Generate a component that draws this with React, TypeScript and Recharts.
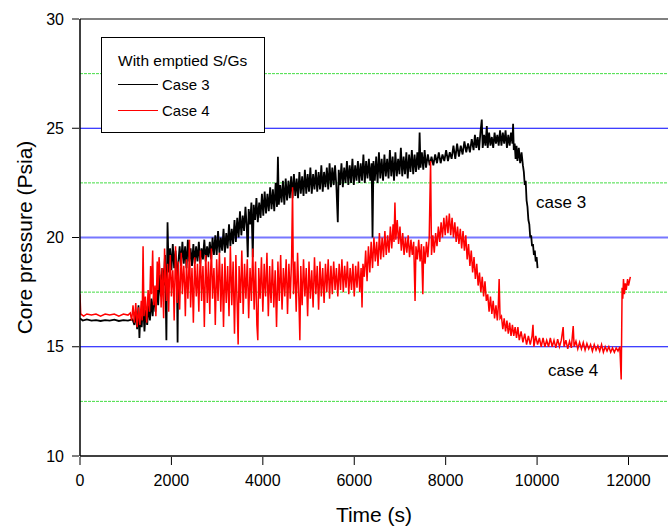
import { LineChart, Line, XAxis, YAxis, ReferenceLine, CartesianGrid } from "recharts"

// Core pressure (Psia) vs time (s) — [time, pressure]
const case3: [number, number][] = [
  [0, 16.3], [60, 16.2], [150, 16.25], [250, 16.2], [350, 16.22], [450, 16.18], [550, 16.22], [650, 16.2], [750, 16.24], [850, 16.18], [950, 16.22], [1050, 16.2], [1150, 16.25],
  [1190, 16.0], [1220, 16.6], [1250, 15.8], [1280, 16.9], [1300, 15.4], [1320, 16.5], [1350, 15.9], [1380, 17.0], [1410, 15.7], [1440, 16.7], [1470, 16.0], [1500, 16.9],
  [1530, 16.2], [1560, 17.2], [1590, 16.4], [1620, 17.5], [1650, 16.6], [1680, 17.8], [1710, 16.9], [1740, 18.3], [1770, 17.3], [1800, 18.6], [1830, 17.8], [1860, 19.2],
  [1890, 15.3], [1905, 18.6], [1915, 20.7], [1940, 18.4], [1970, 19.5], [2000, 18.5], [2030, 19.7], [2060, 18.6], [2090, 19.4], [2120, 18.4], [2135, 15.2], [2150, 18.8], [2180, 19.6],
  [2210, 18.7], [2240, 19.8], [2270, 18.8], [2300, 19.6], [2330, 18.6], [2360, 19.9], [2390, 18.9], [2420, 19.5], [2450, 18.7], [2480, 19.7], [2510, 18.8], [2540, 19.6], [2570, 18.9], [2600, 19.8], [2630, 18.8], [2660, 19.5], [2690, 19.0], [2720, 19.9], [2750, 18.9], [2780, 19.6], [2810, 19.1], [2840, 19.8], [2870, 19.0], [2900, 20.0], [2930, 19.2],
  [2960, 20.1], [2990, 19.2], [3020, 20.3], [3050, 19.3], [3080, 20.0], [3110, 19.4], [3140, 20.4], [3170, 19.3], [3200, 20.2], [3230, 19.5], [3260, 20.6], [3290, 19.6], [3320, 20.4], [3350, 19.7], [3380, 20.8],
  [3410, 19.8], [3440, 20.9], [3470, 20.0], [3500, 21.2], [3530, 20.1], [3560, 21.0], [3590, 20.3], [3620, 21.4], [3650, 20.4], [3670, 19.1], [3690, 21.3], [3720, 20.6], [3750, 21.6], [3780, 19.1], [3800, 21.5], [3830, 20.8], [3860, 21.8], [3890, 20.7], [3920, 21.6], [3950, 20.9], [3980, 22.0],
  [4010, 21.0], [4040, 22.1], [4070, 21.1], [4100, 22.0], [4130, 21.2], [4160, 22.3], [4190, 21.3], [4220, 22.2], [4250, 21.2], [4280, 22.5], [4310, 21.4], [4330, 23.7], [4350, 21.5], [4380, 22.4], [4410, 21.6], [4440, 22.6], [4470, 21.5], [4500, 22.7], [4530, 21.7], [4560, 22.6], [4590, 21.8],
  [4620, 22.8], [4650, 21.8], [4680, 22.9], [4710, 21.9], [4740, 22.7], [4770, 21.8], [4800, 23.0], [4830, 22.0], [4860, 22.8], [4890, 21.9], [4920, 23.1], [4950, 22.0], [4980, 22.9], [5010, 22.1], [5040, 23.2], [5070, 22.0], [5100, 22.9], [5130, 22.2], [5160, 23.1], [5190, 22.1], [5220, 23.0], [5250, 22.2], [5280, 23.3], [5310, 22.1], [5340, 23.0], [5370, 22.3], [5400, 23.2], [5430, 22.2], [5460, 23.4], [5490, 22.3],
  [5520, 23.2], [5550, 22.4], [5580, 23.3], [5610, 22.3], [5640, 20.7], [5660, 23.1], [5690, 22.4], [5720, 23.4], [5750, 22.3], [5780, 23.2], [5810, 22.5], [5840, 23.5], [5870, 22.4], [5900, 23.3], [5930, 22.5], [5960, 23.6], [5990, 22.4], [6020, 23.3], [6050, 22.6], [6080, 23.5], [6110, 22.5], [6140, 23.4], [6170, 22.6], [6200, 23.8], [6230, 22.5], [6260, 23.5], [6290, 22.7], [6320, 23.6], [6350, 22.6], [6380, 23.4], [6400, 20.0], [6420, 23.5],
  [6450, 22.6], [6480, 23.7], [6510, 22.5], [6540, 23.9], [6570, 22.7], [6600, 23.6], [6630, 22.6], [6660, 23.8], [6690, 22.8], [6720, 23.6], [6750, 22.7], [6780, 24.0], [6810, 22.8], [6840, 23.7], [6870, 22.6], [6900, 23.9], [6930, 22.8], [6960, 23.6], [6990, 22.9], [7020, 24.1], [7050, 22.8], [7080, 23.7], [7110, 22.9], [7140, 23.9], [7170, 22.7], [7200, 23.8], [7230, 23.0], [7260, 24.0], [7290, 22.9], [7320, 23.8], [7350, 23.0], [7380, 23.9], [7410, 23.1], [7430, 24.8], [7450, 23.2], [7480, 23.9], [7510, 23.1], [7540, 24.0], [7570, 23.2],
  [7610, 23.8], [7650, 23.3], [7690, 23.7], [7730, 23.3], [7770, 23.8], [7810, 23.4], [7850, 23.9], [7890, 23.4], [7930, 23.8], [7970, 23.5], [8010, 24.0], [8050, 23.5], [8090, 23.9], [8130, 23.6],
  [8170, 24.2], [8210, 23.6], [8250, 24.3], [8290, 23.7], [8330, 24.2], [8370, 23.8], [8410, 24.4], [8450, 23.9], [8490, 24.3], [8530, 23.9], [8570, 24.5],
  [8610, 24.0], [8640, 24.7], [8670, 24.1], [8700, 24.6], [8730, 24.0], [8760, 24.8], [8790, 25.4], [8810, 24.1], [8840, 24.7], [8870, 24.2], [8900, 25.1], [8920, 24.1], [8950, 24.8], [8980, 24.2], [9010, 24.6], [9040, 24.1], [9070, 24.8], [9100, 24.3], [9130, 24.7], [9160, 24.2], [9190, 24.9],
  [9220, 24.2], [9250, 24.8], [9280, 24.3], [9310, 24.9], [9340, 24.1], [9370, 24.7], [9400, 24.2], [9430, 24.8], [9460, 24.3], [9475, 25.2],
  [9490, 24.0], [9510, 24.3], [9530, 23.6], [9550, 24.2], [9570, 23.5], [9600, 24.1], [9630, 23.4], [9660, 23.9], [9690, 23.3],
  [9710, 23.0], [9730, 22.4], [9750, 22.6], [9770, 21.7], [9790, 21.4], [9810, 20.8], [9830, 20.6], [9850, 20.0], [9870, 20.1], [9890, 19.6], [9910, 19.7], [9930, 19.2], [9950, 19.4], [9970, 18.9], [9990, 19.1], [10010, 18.6],
]

const case4: [number, number][] = [
  [0, 17.4], [15, 16.5], [80, 16.4], [150, 16.5], [250, 16.45], [350, 16.5], [450, 16.4], [550, 16.5], [650, 16.45], [750, 16.5], [850, 16.4], [950, 16.5], [1050, 16.45], [1100, 16.55],
  [1130, 16.2], [1160, 16.9], [1190, 16.1], [1220, 17.0], [1250, 15.9], [1280, 16.8], [1310, 16.0], [1340, 17.1], [1360, 16.2], [1380, 19.6], [1400, 16.4], [1430, 17.3], [1460, 16.1], [1490, 17.6],
  [1520, 16.6], [1545, 18.7], [1565, 17.4], [1590, 19.4], [1610, 16.9], [1640, 17.8], [1660, 16.4], [1690, 18.9], [1705, 17.6], [1730, 19.1], [1760, 18.0], [1775, 16.8], [1800, 18.6], [1830, 16.3], [1850, 19.5], [1870, 18.2], [1890, 17.1], [1915, 18.8], [1940, 16.6], [1955, 18.0], [1975, 19.2], [2000, 17.3], [2030, 18.5], [2045, 17.7], [2060, 16.2], [2090, 19.6], [2110, 18.1], [2125, 17.0], [2150, 18.9], [2180, 16.7], [2195, 17.9], [2215, 19.3], [2240, 17.4], [2270, 18.7], [2290, 17.8], [2305, 16.4], [2330, 19.0], [2360, 17.2], [2380, 18.4], [2395, 19.9], [2420, 16.8], [2450, 18.6], [2465, 17.5], [2480, 16.1], [2510, 19.1], [2530, 17.9], [2545, 17.3], [2570, 18.8], [2600, 16.6], [2615, 18.1], [2635, 19.4], [2660, 17.1], [2690, 18.7], [2705, 17.6], [2720, 15.9], [2750, 19.2], [2770, 18.0], [2785, 17.0], [2810, 18.9], [2840, 16.5], [2855, 18.3], [2875, 19.5], [2900, 17.2], [2930, 18.6], [2945, 17.6], [2960, 16.0], [2990, 19.0],
  [3020, 17.1], [3050, 19.3], [3065, 18.2], [3080, 16.6], [3110, 18.8], [3140, 15.9], [3170, 19.1], [3185, 17.8], [3200, 17.0], [3230, 18.7], [3260, 16.4], [3290, 19.6], [3305, 18.3], [3320, 16.9], [3350, 18.9], [3380, 15.6], [3410, 19.2], [3425, 17.9], [3440, 16.8], [3460, 15.1], [3480, 18.7], [3510, 17.0], [3540, 19.4], [3555, 18.1], [3570, 16.5], [3600, 18.8], [3630, 17.2], [3660, 19.0], [3675, 17.7], [3690, 16.3], [3720, 18.6], [3750, 17.1], [3780, 19.5], [3795, 18.0], [3810, 16.7], [3840, 18.9], [3870, 16.0], [3890, 15.3], [3910, 18.6], [3940, 17.2], [3970, 19.1],
  [4000, 16.6], [4030, 18.8], [4045, 17.8], [4060, 17.3], [4090, 19.3], [4120, 16.4], [4150, 18.7], [4165, 17.6], [4180, 17.0], [4210, 19.0], [4240, 16.8], [4270, 18.5], [4300, 15.9], [4330, 18.9], [4345, 17.9], [4360, 17.1], [4390, 19.2], [4420, 16.7], [4450, 18.6], [4480, 17.3], [4510, 19.0], [4525, 17.9], [4540, 16.5], [4570, 18.8], [4600, 17.2], [4630, 19.1], [4650, 22.3], [4670, 17.4], [4700, 18.9], [4730, 16.6], [4760, 19.3], [4790, 17.1], [4810, 15.3], [4830, 18.7], [4860, 16.9], [4890, 19.0], [4920, 17.3], [4950, 18.6], [4980, 16.4],
  [5010, 18.9], [5040, 17.2], [5070, 18.5], [5100, 16.8], [5130, 19.1], [5160, 17.4], [5190, 18.7], [5220, 16.7], [5250, 18.9], [5280, 17.3], [5310, 18.6], [5340, 17.0], [5370, 18.8], [5400, 17.5], [5430, 19.0], [5460, 17.2], [5490, 18.7], [5520, 17.4], [5550, 18.9], [5580, 17.6], [5610, 18.6], [5640, 17.3], [5670, 18.8], [5700, 17.6], [5730, 19.0], [5760, 17.5], [5790, 18.7], [5820, 17.7], [5850, 18.9], [5880, 17.4], [5910, 18.6], [5940, 17.6], [5970, 18.8], [6000, 17.3], [6030, 18.7], [6060, 17.7], [6090, 18.9], [6120, 17.5], [6150, 18.6], [6170, 16.8], [6190, 18.8],
  [6220, 18.2], [6250, 19.4], [6280, 18.0], [6310, 19.6], [6340, 18.4], [6370, 19.8], [6400, 18.6], [6430, 20.0], [6460, 18.9], [6490, 19.8], [6520, 18.7], [6550, 20.2], [6580, 19.0], [6610, 20.0], [6640, 19.1], [6670, 20.3], [6700, 19.2], [6730, 20.1], [6760, 19.3], [6790, 20.5],
  [6820, 19.5], [6850, 20.6], [6870, 19.8], [6890, 21.6], [6910, 19.9], [6940, 20.8], [6970, 19.7], [7000, 20.5],
  [7030, 19.4], [7060, 20.2], [7090, 19.2], [7120, 20.0], [7150, 19.3], [7180, 20.1], [7210, 19.1], [7240, 19.9], [7270, 19.2], [7300, 19.8], [7330, 17.1], [7350, 19.6],
  [7380, 19.0], [7410, 19.9], [7440, 18.9], [7470, 19.7], [7500, 17.4], [7520, 19.6], [7550, 18.8], [7580, 19.8], [7610, 19.1], [7640, 20.0], [7670, 23.5], [7690, 19.2], [7720, 20.1], [7750, 19.3], [7780, 20.2],
  [7810, 19.6], [7840, 20.5], [7870, 19.8], [7900, 20.7], [7930, 20.0], [7960, 20.9], [7990, 20.1], [8020, 21.0], [8050, 20.2], [8080, 21.1], [8110, 20.1], [8140, 20.9],
  [8170, 20.0], [8200, 20.7], [8230, 19.8], [8260, 20.5], [8290, 19.7], [8320, 20.4], [8350, 19.5], [8380, 20.3], [8410, 19.4], [8440, 20.1],
  [8470, 19.0], [8500, 19.7], [8530, 18.7], [8560, 19.4], [8590, 18.4], [8620, 19.1], [8650, 18.1], [8680, 18.8],
  [8710, 17.8], [8740, 18.4], [8770, 17.5], [8800, 18.2], [8830, 17.3], [8860, 18.0], [8890, 17.1],
  [8920, 17.4], [8950, 16.6], [8980, 17.3], [9010, 16.5], [9040, 17.1], [9070, 16.3], [9100, 16.9], [9130, 16.2], [9150, 16.8], [9170, 18.1], [9190, 16.3],
  [9220, 16.4], [9250, 15.8], [9280, 16.3], [9310, 15.7], [9340, 16.2], [9370, 15.6], [9400, 16.1], [9430, 15.5], [9460, 16.0], [9490, 15.5], [9520, 15.9], [9550, 15.4], [9580, 15.9], [9610, 15.3],
  [9650, 15.7], [9690, 15.2], [9730, 15.6], [9770, 15.1], [9810, 15.5], [9850, 15.1], [9890, 15.5], [9910, 16.0], [9930, 15.0], [9970, 15.5], [10010, 15.1], [10050, 15.4], [10090, 15.0], [10130, 15.4], [10170, 15.0], [10210, 15.3],
  [10250, 15.0], [10290, 15.4], [10330, 15.0], [10370, 15.3], [10410, 14.95], [10450, 15.35], [10490, 15.0], [10530, 15.3], [10570, 15.9], [10590, 15.0], [10630, 15.3], [10670, 14.9], [10710, 15.25], [10750, 14.95], [10790, 15.95], [10810, 15.0], [10850, 15.25], [10890, 14.9], [10930, 15.2], [10970, 14.9],
  [11010, 15.2], [11050, 14.85], [11090, 15.15], [11130, 14.9], [11170, 15.1], [11210, 14.8], [11250, 15.1], [11290, 14.85], [11330, 15.05], [11370, 14.8], [11410, 15.1], [11450, 14.75], [11490, 15.0], [11530, 14.8], [11570, 15.0], [11610, 14.75], [11650, 14.95], [11690, 14.75], [11730, 14.95], [11770, 14.8], [11810, 15.0],
  [11840, 13.5], [11850, 15.5], [11860, 17.7], [11875, 17.2], [11890, 18.1], [11910, 17.4], [11930, 17.9], [11950, 17.6], [11980, 18.1], [12000, 17.8], [12040, 18.2],
]

const timeTicks = [0, 2000, 4000, 6000, 8000, 10000, 12000]
const timeMinorTicks = [1000, 3000, 5000, 7000, 9000, 11000]
const pressureTicks = [10, 15, 20, 25, 30]
const pressureMinorTicks = [12.5, 17.5, 22.5, 27.5]
const majorGrid = [15, 25]
const centreGrid = [20]
const minorGrid = [12.5, 17.5, 22.5, 27.5]

const case3Data = case3.map(([t, p]) => ({ t, p }))
const case4Data = case4.map(([t, p]) => ({ t, p }))

const FONT = '"Liberation Sans", Arial, sans-serif'
const X_DOMAIN: [number, number] = [0, 12864]
const Y_DOMAIN: [number, number] = [10, 30]

export default function App() {
  return (
    <div style={{ position: "absolute", left: 0, top: 0, width: 668, height: 531, background: "#fff", fontFamily: FONT }}>
      <LineChart width={668} height={531} margin={{ top: 19, right: 0, left: 0, bottom: 0 }}>
        <CartesianGrid
          xAxisId="xt"
          yAxisId="yp"
          vertical={false}
          horizontalValues={minorGrid}
          stroke="#44dd44"
          strokeDasharray="3 1"
        />
        <CartesianGrid
          xAxisId="xt"
          yAxisId="yp"
          vertical={false}
          horizontalValues={majorGrid}
          stroke="#0000ff"
        />
        <CartesianGrid
          xAxisId="xt"
          yAxisId="yp"
          vertical={false}
          horizontalValues={centreGrid}
          stroke="#7777ff"
          strokeWidth={2}
        />
        <XAxis
          xAxisId="xt"
          type="number"
          dataKey="t"
          domain={X_DOMAIN}
          ticks={timeTicks}
          allowDataOverflow
          height={74}
          tickSize={8}
          tickMargin={10}
          axisLine={false}
          stroke="#000"
          tick={{ fill: "#000", fontSize: 16, fontFamily: FONT }}
          label={{ value: "Time (s)", position: "insideBottom", offset: 9, fill: "#000", fontSize: 21, fontFamily: FONT }}
        />
        {/* minor-tick axis sits on the plot edge and carries the axis line */}
        <XAxis
          xAxisId="xa"
          type="number"
          dataKey="t"
          domain={X_DOMAIN}
          ticks={timeMinorTicks}
          height={1}
          tick={false}
          tickSize={4}
          stroke="#000"
          strokeWidth={1.5}
        />
        <YAxis
          yAxisId="yp"
          type="number"
          domain={Y_DOMAIN}
          ticks={pressureTicks}
          width={79}
          tickSize={7}
          tickMargin={8}
          axisLine={false}
          stroke="#000"
          tick={{ fill: "#000", fontSize: 16, fontFamily: FONT }}
          label={{
            value: "Core pressure (Psia)",
            angle: -90,
            position: "insideLeft",
            offset: 25,
            fill: "#000",
            fontSize: 21,
            fontFamily: FONT,
            style: { textAnchor: "middle" },
          }}
        />
        <YAxis
          yAxisId="ya"
          type="number"
          domain={Y_DOMAIN}
          ticks={pressureMinorTicks}
          width={1}
          tick={false}
          tickSize={4}
          stroke="#000"
          strokeWidth={1.5}
        />
        <ReferenceLine xAxisId="xt" yAxisId="yp" y={30} stroke="#808080" strokeWidth={2} />
        <Line
          xAxisId="xt"
          yAxisId="yp"
          data={case3Data}
          dataKey="p"
          name="Case 3"
          type="linear"
          stroke="#000"
          strokeWidth={1.8}
          dot={false}
          isAnimationActive={false}
        />
        <Line
          xAxisId="xt"
          yAxisId="yp"
          data={case4Data}
          dataKey="p"
          name="Case 4"
          type="linear"
          stroke="#ff0000"
          strokeWidth={1.5}
          dot={false}
          isAnimationActive={false}
        />
      </LineChart>

      <div style={{ position: "absolute", left: 101, top: 37, width: 162, height: 94, border: "1px solid #000", background: "#fff", fontSize: 15, color: "#000" }}>
        <div style={{ position: "absolute", left: 16, top: 14, lineHeight: "18px", whiteSpace: "nowrap", fontSize: 15.5 }}>With emptied S/Gs</div>
        <div style={{ position: "absolute", left: 16, top: 46, width: 40, borderTop: "1px solid #000" }} />
        <div style={{ position: "absolute", left: 60, top: 38, lineHeight: "18px" }}>Case 3</div>
        <div style={{ position: "absolute", left: 16, top: 72, width: 40, borderTop: "1px solid #ff0000" }} />
        <div style={{ position: "absolute", left: 60, top: 64, lineHeight: "18px" }}>Case 4</div>
      </div>

      <div style={{ position: "absolute", left: 536, top: 193, fontSize: 17, lineHeight: "20px", color: "#000" }}>case 3</div>
      <div style={{ position: "absolute", left: 548, top: 361, fontSize: 17, lineHeight: "20px", color: "#000" }}>case 4</div>
    </div>
  )
}
